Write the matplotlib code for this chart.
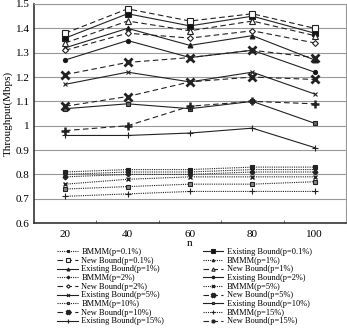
import numpy as np
import matplotlib
matplotlib.use("Agg")
import matplotlib.pyplot as plt
from matplotlib.ticker import FormatStrFormatter, FixedLocator

plt.rcParams['font.family'] = ['Liberation Serif', 'DejaVu Serif']

n = [20, 40, 60, 80, 100]
p_labels = ['0.1%', '1%', '2%', '5%', '10%', '15%']

# BMMM (dotted)
bmmm_01 = [0.81, 0.82, 0.82, 0.83, 0.83]
bmmm_1 = [0.80, 0.81, 0.81, 0.82, 0.82]
bmmm_2 = [0.79, 0.80, 0.80, 0.81, 0.81]
bmmm_5 = [0.76, 0.78, 0.79, 0.79, 0.79]
bmmm_10 = [0.74, 0.75, 0.76, 0.76, 0.77]
bmmm_15 = [0.71, 0.72, 0.73, 0.73, 0.73]

# Existing Bound (solid)
exist_01 = [1.36, 1.46, 1.41, 1.45, 1.38]
exist_1 = [1.32, 1.40, 1.33, 1.37, 1.27]
exist_2 = [1.27, 1.35, 1.28, 1.31, 1.22]
exist_5 = [1.17, 1.22, 1.18, 1.22, 1.13]
exist_10 = [1.07, 1.09, 1.07, 1.10, 1.01]
exist_15 = [0.96, 0.96, 0.97, 0.99, 0.91]

# New Bound (dashed)
new_01 = [1.38, 1.48, 1.43, 1.46, 1.40]
new_1 = [1.34, 1.43, 1.39, 1.43, 1.37]
new_2 = [1.31, 1.38, 1.36, 1.39, 1.34]
new_5 = [1.21, 1.26, 1.28, 1.31, 1.28]
new_10 = [1.08, 1.12, 1.18, 1.20, 1.19]
new_15 = [0.98, 1.00, 1.08, 1.10, 1.09]

bmmm = [bmmm_01, bmmm_1, bmmm_2, bmmm_5, bmmm_10, bmmm_15]
exist = [exist_01, exist_1, exist_2, exist_5, exist_10, exist_15]
new = [new_01, new_1, new_2, new_5, new_10, new_15]

# marker styles: (marker, size, facecolor, edgewidth)
bmmm_mk = [('s', 3.5, '#222', 0.8), ('^', 3, '#222', 0.8), ('D', 2.5, '#222', 0.8),
           ('x', 3.5, '#222', 1.0), ('s', 3.5, '#888', 0.8), ('+', 4, '#222', 0.8)]
exist_mk = [('s', 4, '#111', 0.8), ('^', 3.5, '#111', 0.8), ('o', 3, '#111', 0.8),
            ('x', 3.5, '#111', 0.8), ('s', 3, '#666', 0.8), ('+', 5, '#111', 0.8)]
new_mk = [('s', 4, 'white', 0.8), ('^', 4, 'white', 0.8), ('D', 3, 'white', 0.8),
          ('x', 6, '#111', 2.0), ('x', 6, '#111', 2.0), ('+', 6, '#111', 1.8)]

fig = plt.figure(figsize=(3.47, 3.33), dpi=100)
ax = fig.add_axes([0.098, 0.330, 0.899, 0.658])

lc = '#222222'
handles = []
for i, p in enumerate(p_labels):
    m, s, fc, ew = bmmm_mk[i]
    h1, = ax.plot(n, bmmm[i], linestyle=(0, (1, 1)), color=lc, lw=0.8, marker=m,
                  markersize=s, markerfacecolor=fc, markeredgecolor=lc, markeredgewidth=ew,
                  label='BMMM(p=%s)' % p)
    m, s, fc, ew = exist_mk[i]
    h2, = ax.plot(n, exist[i], linestyle='-', color=lc, lw=0.8, marker=m,
                  markersize=s, markerfacecolor=fc, markeredgecolor=lc, markeredgewidth=ew,
                  label='Existing Bound(p=%s)' % p)
    m, s, fc, ew = new_mk[i]
    h3, = ax.plot(n, new[i], linestyle=(0, (5, 3)), color=lc, lw=0.8, marker=m,
                  markersize=s, markerfacecolor=fc, markeredgecolor=lc, markeredgewidth=ew,
                  label='New Bound(p=%s)' % p)
    handles += [h1, h2, h3]

ax.set_xlim(10, 110)
ax.set_ylim(0.6, 1.5)
ax.set_xticks(n)
ax.xaxis.set_minor_locator(FixedLocator([30, 50, 70, 90]))
ax.tick_params(axis='x', which='major', length=0, labelsize=8, pad=5)
ax.tick_params(axis='x', which='minor', length=2.5, direction='in', color='#555')
ax.set_yticks(np.arange(0.6, 1.51, 0.1))
ax.yaxis.set_major_formatter(FormatStrFormatter('%g'))
ax.tick_params(axis='y', length=0, labelsize=8, pad=3)
ax.grid(axis='y', color='#999999', lw=0.8)
ax.set_axisbelow(True)
for s in ['top', 'right']:
    ax.spines[s].set_color('#999999')
    ax.spines[s].set_linewidth(0.8)
for s in ['left', 'bottom']:
    ax.spines[s].set_color('#333333')
    ax.spines[s].set_linewidth(1.2)

ax.set_xlabel('n', fontsize=8, labelpad=0)
ax.set_ylabel('Throughput(Mbps)', fontsize=8, labelpad=2)

order = handles[0::2] + handles[1::2]
fig.legend(handles=order, labels=[h.get_label() for h in order], ncol=2,
           loc='upper left', bbox_to_anchor=(0.165, 0.255), frameon=False,
           fontsize=6, handlelength=2.5, handleheight=0.5, labelspacing=0.08,
           columnspacing=4.6, markerscale=0.6,
           handletextpad=0.4, borderaxespad=0, borderpad=0)

fig.savefig('out.png', dpi=100)
